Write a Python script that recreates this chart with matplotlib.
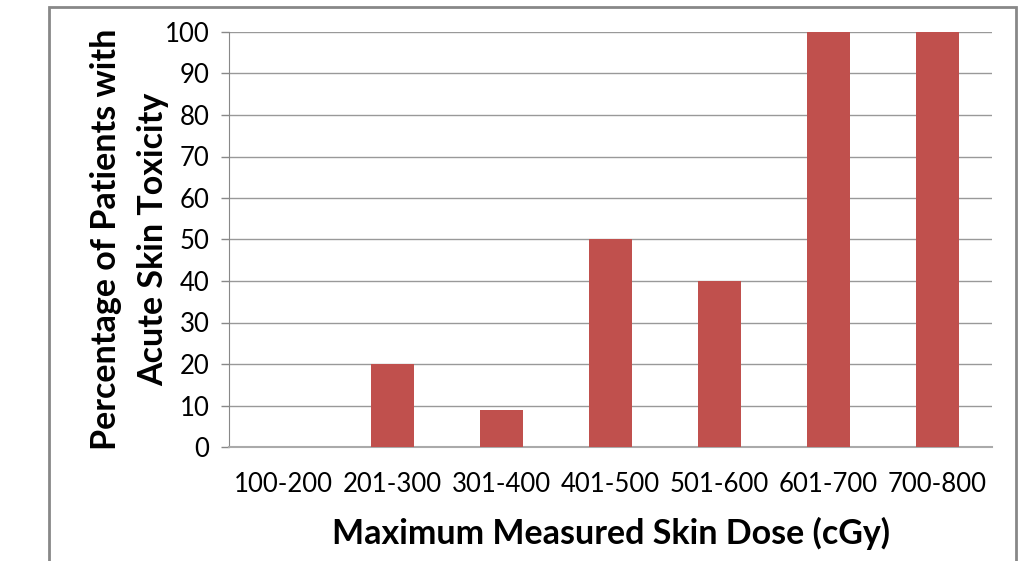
import matplotlib
matplotlib.use('Agg')
import matplotlib.pyplot as plt
import matplotlib.patches as patches
import numpy as np

plt.rcParams['font.family'] = ['Lato', 'DejaVu Sans']

categories = ['100-200', '201-300', '301-400', '401-500', '501-600', '601-700', '700-800']
percent = [0, 20, 9, 50, 40, 100, 100]
yticks = list(range(0, 101, 10))

fig = plt.figure(figsize=(10.19, 5.61), dpi=100)
W, H = 1019, 561
ax = fig.add_axes([229 / W, 1 - 447 / H, (992 - 229) / W, (447 - 32) / H])

x = np.arange(len(categories))
ax.bar(x, percent, width=0.4, color='#c0504d', zorder=3)

ax.set_xlim(-0.5, len(categories) - 0.5)
ax.set_ylim(0, 100)
ax.set_yticks(yticks)
ax.set_xticks(x)
ax.set_xticklabels(categories, fontsize=18.5)
ax.tick_params(axis='y', labelsize=18.5, length=6, color='#888888', width=1, pad=8)
ax.tick_params(axis='x', length=0, pad=18)
ax.yaxis.grid(True, color='#999999', linewidth=1, zorder=0)

for s in ['top', 'right']:
    ax.spines[s].set_visible(False)
ax.spines['left'].set_color('#888888')
ax.spines['bottom'].set_color('#aaaaaa')
ax.spines['bottom'].set_linewidth(1.5)

ax.set_xlabel('Maximum Measured Skin Dose (cGy)', fontsize=24.5, fontweight='bold', labelpad=14)
ax.set_ylabel('Percentage of Patients with\nAcute Skin Toxicity', fontsize=24.5,
              fontweight='bold', linespacing=1.6)
ax.yaxis.set_label_coords(-0.078, 0.5)

frame = patches.Rectangle((49 / W, -0.1), (1016 - 49) / W, 1 - 7 / H + 0.1,
                          transform=fig.transFigure, fill=False,
                          edgecolor='#888888', linewidth=2, clip_on=False)
fig.patches.append(frame)

fig.savefig('out.png', dpi=100)
